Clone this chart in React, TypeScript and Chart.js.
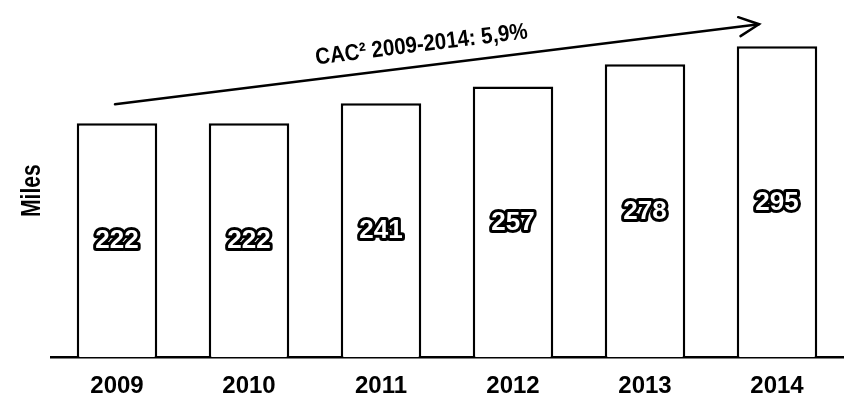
import React, { useEffect, useRef } from "react";
import { Chart, registerables } from "chart.js";

Chart.register(...registerables);

const categories = ["2009", "2010", "2011", "2012", "2013", "2014"];
const values = [222, 222, 241, 257, 278, 295];
const yTitle = "Miles";
const cagrLabel = "CAC² 2009-2014: 5,9%";
const arrowStartValue = 240;
const arrowEndValue = 316;

const FONT = "'Liberation Sans', Arial, sans-serif";

const overlayPlugin = {
  id: "overlay",
  afterDatasetsDraw(chart: any) {
    const ctx = chart.ctx;
    const meta = chart.getDatasetMeta(0);
    ctx.save();
    ctx.font = `bold 26px ${FONT}`;
    ctx.textAlign = "center";
    ctx.textBaseline = "middle";
    ctx.lineJoin = "round";
    meta.data.forEach((bar: any, i: number) => {
      const x = bar.x;
      const y = (bar.y + bar.base) / 2 + 1;
      const t = String(values[i]);
      ctx.lineWidth = 6;
      ctx.strokeStyle = "#000";
      ctx.strokeText(t, x, y);
      ctx.fillStyle = "#fff";
      ctx.fillText(t, x, y);
    });
    ctx.restore();
  },
  afterDraw(chart: any) {
    const ctx = chart.ctx;
    const xs = chart.scales.x;
    const ys = chart.scales.y;
    const area = chart.chartArea;
    // Y title
    ctx.save();
    ctx.translate(area.left - 18, (area.top + area.bottom) / 2 + 2);
    ctx.rotate(-Math.PI / 2);
    ctx.font = `bold 27px ${FONT}`;
    ctx.fillStyle = "#000";
    ctx.textAlign = "center";
    ctx.textBaseline = "middle";
    ctx.scale(0.78, 1);
    ctx.fillText(yTitle, 0, 0);
    ctx.restore();

    // Arrow
    const x1 = xs.getPixelForValue(0) - 2;
    const y1 = ys.getPixelForValue(arrowStartValue);
    const x2 = xs.getPixelForValue(5) - 18;
    const y2 = ys.getPixelForValue(arrowEndValue);
    const ang = Math.atan2(y2 - y1, x2 - x1);
    ctx.save();
    ctx.strokeStyle = "#000";
    ctx.lineWidth = 2.5;
    ctx.lineCap = "round";
    ctx.beginPath();
    ctx.moveTo(x1, y1);
    ctx.lineTo(x2, y2);
    ctx.stroke();
    const head = 22;
    const spread = 0.45;
    ctx.beginPath();
    ctx.moveTo(x2 - head * Math.cos(ang - spread), y2 - head * Math.sin(ang - spread));
    ctx.lineTo(x2, y2);
    ctx.lineTo(x2 - head * Math.cos(ang + spread), y2 - head * Math.sin(ang + spread));
    ctx.stroke();

    // CAGR label along the arrow
    const f = 0.48;
    const mx = x1 + (x2 - x1) * f;
    const my = y1 + (y2 - y1) * f;
    ctx.translate(mx, my);
    ctx.rotate(ang);
    ctx.font = `bold 22px ${FONT}`;
    ctx.fillStyle = "#000";
    ctx.textAlign = "center";
    ctx.textBaseline = "bottom";
    ctx.scale(0.93, 1.05);
    ctx.fillText(cagrLabel, 0, -9);
    ctx.restore();
  },
};

export default function App() {
  const ref = useRef<HTMLCanvasElement | null>(null);
  useEffect(() => {
    if (!ref.current) return;
    const chart = new Chart(ref.current, {
      type: "bar",
      data: {
        labels: categories,
        datasets: [
          {
            data: values,
            backgroundColor: "#ffffff",
            borderColor: "#000000",
            borderWidth: 2.5,
            borderSkipped: "bottom",
            barPercentage: 0.61,
            categoryPercentage: 1,
          },
        ],
      },
      options: {
        responsive: false,
        animation: false,
        events: [],
        layout: { padding: { left: 51, right: 6, top: 20, bottom: -15 } },
        plugins: { legend: { display: false }, tooltip: { enabled: false } },
        scales: {
          x: {
            grid: { display: false, drawTicks: false },
            border: { display: true, color: "#000", width: 2.5 },
            ticks: {
              color: "#000",
              padding: 15,
              font: { family: FONT, size: 24, weight: "bold" },
            },
          },
          y: {
            display: false,
            min: 0,
            max: 320,
          },
        },
      },
      plugins: [overlayPlugin],
    });
    return () => chart.destroy();
  }, []);
  return (
    <div style={{ position: "absolute", left: 0, top: 0, width: 849, height: 401, background: "#fff" }}>
      <canvas ref={ref} width={849} height={401} />
    </div>
  );
}
